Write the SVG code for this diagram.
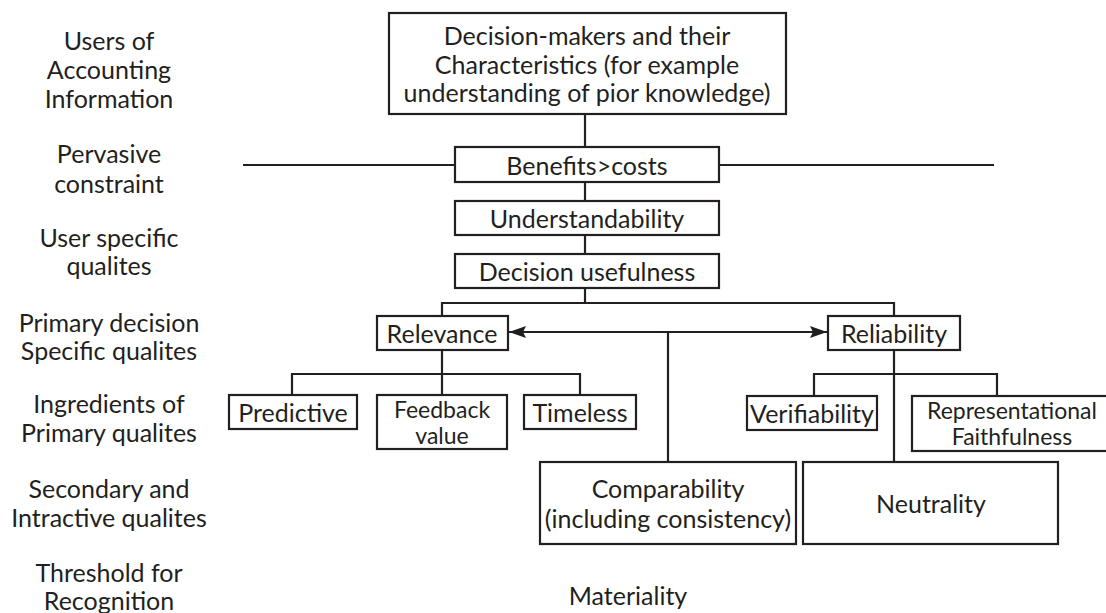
<svg xmlns="http://www.w3.org/2000/svg" width="1106" height="613" viewBox="0 0 1106 613">
<style>
  text { font-family: Lato, "Open Sans", sans-serif; font-size: 25px; fill: #231f20; text-anchor: middle; }
  text.sm { font-size: 23px; }
  .box { fill: #ffffff; stroke: #231f20; stroke-width: 2.2; }
  .ln { fill: none; stroke: #231f20; stroke-width: 2.2; }
</style>
<defs>
  <marker id="arr" markerUnits="userSpaceOnUse" markerWidth="18" markerHeight="13" refX="17" refY="6" orient="auto-start-reverse">
    <path d="M0,0 L17,6 L0,12 L3,6 z" fill="#231f20"/>
  </marker>
</defs>
<rect width="1106" height="613" fill="#ffffff"/>

<g id="labels">
  <text x="109" y="50">Users of</text>
  <text x="109" y="79">Accounting</text>
  <text x="109" y="108">Information</text>
  <text x="109" y="163">Pervasive</text>
  <text x="109" y="193">constraint</text>
  <text x="109" y="247">User specific</text>
  <text x="109" y="275">qualites</text>
  <text x="109" y="332">Primary decision</text>
  <text x="109" y="360">Specific qualites</text>
  <text x="109" y="413">Ingredients of</text>
  <text x="109" y="442">Primary qualites</text>
  <text x="109" y="498">Secondary and</text>
  <text x="109" y="527">Intractive qualites</text>
  <text x="109" y="582">Threshold for</text>
  <text x="109" y="610">Recognition</text>
</g>

<g id="connectors">
  <line class="ln" x1="585" y1="114" x2="585" y2="147"/>
  <line class="ln" x1="243" y1="165" x2="455" y2="165"/>
  <line class="ln" x1="719" y1="165" x2="994" y2="165"/>
  <line class="ln" x1="585" y1="182" x2="585" y2="201"/>
  <line class="ln" x1="585" y1="235" x2="585" y2="254"/>
  <polyline class="ln" points="585,288 585,303"/>
  <polyline class="ln" points="442,316 442,303 894,303 894,316"/>
  <line class="ln" x1="509" y1="332" x2="827" y2="332" marker-start="url(#arr)" marker-end="url(#arr)"/>
  <line class="ln" x1="668" y1="332" x2="668" y2="462"/>
  <line class="ln" x1="442" y1="350" x2="442" y2="395"/>
  <polyline class="ln" points="292,395 292,374 580,374 580,395"/>
  <line class="ln" x1="894" y1="350" x2="894" y2="462"/>
  <polyline class="ln" points="814,396 814,374 997,374 997,396"/>
</g>

<g id="n-decision-makers">
  <rect class="box" x="389" y="13" width="397" height="101"/>
  <text x="587" y="45">Decision-makers and their</text>
  <text x="587" y="74">Characteristics (for example</text>
  <text x="587" y="102">understanding of pior knowledge)</text>
</g>
<g id="n-benefits">
  <rect class="box" x="455" y="147" width="264" height="35"/>
  <text x="587" y="175">Benefits&gt;costs</text>
</g>
<g id="n-understandability">
  <rect class="box" x="455" y="201" width="264" height="34"/>
  <text x="587" y="228">Understandability</text>
</g>
<g id="n-decision-usefulness">
  <rect class="box" x="455" y="254" width="264" height="34"/>
  <text x="587" y="281">Decision usefulness</text>
</g>
<g id="n-relevance">
  <rect class="box" x="377" y="316" width="131" height="34"/>
  <text x="442" y="343">Relevance</text>
</g>
<g id="n-reliability">
  <rect class="box" x="828" y="316" width="132" height="34"/>
  <text x="894" y="343">Reliability</text>
</g>
<g id="n-predictive">
  <rect class="box" x="229" y="395" width="128" height="34"/>
  <text x="293" y="422">Predictive</text>
</g>
<g id="n-feedback">
  <rect class="box" x="377" y="395" width="130" height="54"/>
  <text class="sm" x="442" y="418">Feedback</text>
  <text class="sm" x="442" y="444">value</text>
</g>
<g id="n-timeless">
  <rect class="box" x="524" y="395" width="112" height="34"/>
  <text x="580" y="422">Timeless</text>
</g>
<g id="n-verifiability">
  <rect class="box" x="747" y="396" width="130" height="34"/>
  <text x="812" y="423">Verifiability</text>
</g>
<g id="n-representational">
  <rect class="box" x="912" y="396" width="200" height="55"/>
  <text class="sm" x="1012" y="419">Representational</text>
  <text class="sm" x="1012" y="445">Faithfulness</text>
</g>
<g id="n-comparability">
  <rect class="box" x="540" y="462" width="256" height="82"/>
  <text x="668" y="498">Comparability</text>
  <text x="668" y="528">(including consistency)</text>
</g>
<g id="n-neutrality">
  <rect class="box" x="803" y="462" width="255" height="82"/>
  <text x="931" y="513">Neutrality</text>
</g>
<g id="n-materiality">
  <text x="628" y="605">Materiality</text>
</g>
</svg>
